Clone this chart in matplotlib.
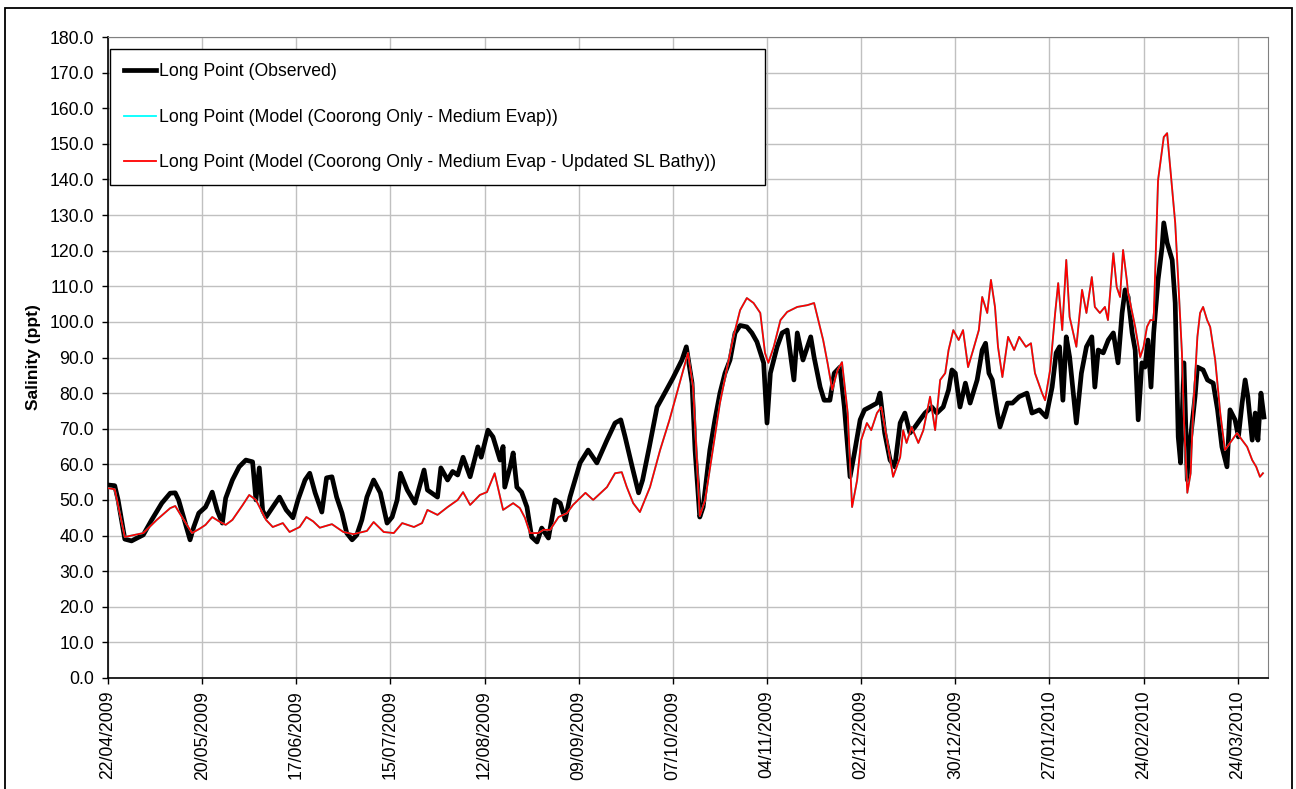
import numpy as np
import pandas as pd
import matplotlib
matplotlib.use('Agg')
import matplotlib.pyplot as plt
import matplotlib.dates as mdates
from matplotlib.patches import Rectangle
from matplotlib.ticker import FormatStrFormatter

plt.rcParams['font.family'] = ['Liberation Sans', 'DejaVu Sans']

# days after 22/04/2009 and salinity (ppt)
START = pd.Timestamp('2009-04-22')
END_DAY = 345

obs_day = [0, 2, 3, 5, 7, 10.5, 13, 16, 18.5, 20, 21, 24.4, 25.5, 27, 29, 30, 31, 32.5, 34, 35,
           37, 39, 41, 43, 44, 45, 46, 47, 49, 51, 53, 55, 56.5, 58.6, 60, 61.6, 63.6, 65, 66.6, 68,
           69.6, 71, 72.6, 74, 75.5, 77, 79, 81, 83, 84.5, 86, 87, 89, 91.3, 94, 95, 98, 99, 101, 102.5,
           104, 105.6, 107.7, 110, 111, 113, 114.5, 116.6, 117.5, 118, 119.6, 120.5, 121.6, 123, 124.6, 126, 127.6, 129, 131, 133,
           134.5, 136, 137.4, 140.4, 142.8, 145.4, 148.4, 150.8, 152.5, 153.8, 155.9, 157.8, 159, 161, 163.3, 165, 168, 170.7, 172, 173.7,
           174.6, 176, 177, 179, 180.5, 182, 183.5, 185, 186.5, 188, 190, 191.5, 193, 195, 196, 197, 199, 200.5, 202, 204,
           205, 206.7, 209, 210, 211.8, 213, 214.7, 216, 217.7, 219, 220.7, 222, 223.7, 225, 226.6, 228.7, 229.6, 231, 232.6, 234,
           235.6, 237, 238.5, 240, 241.5, 243, 245, 246.5, 248.4, 250, 251, 252, 253.4, 255, 256.4, 258.5, 260, 261, 262, 263,
           264.5, 265.3, 267.5, 269, 271, 273.3, 274.8, 277, 279, 280.8, 282, 283, 284, 285, 286, 288, 289.5, 291, 292.6, 293.5,
           294.5, 296, 297.5, 299, 300.4, 301.6, 302.5, 303.4, 304.6, 305.5, 306.4, 307.5, 308.4, 309.3, 310.2, 311, 312.3, 313.5, 314, 315,
           316.5, 317.4, 318.3, 319, 320, 321, 322, 323.3, 324, 325.7, 327, 328.7, 330, 331.3, 332.8, 333.7, 335.2, 336.2, 337.3, 338.2,
           339, 340.3, 341.2, 342, 342.9, 343.8]
obs_val = [54.2, 54.0, 50, 39.0, 38.5, 40.2, 44.4, 49.1, 51.9, 52, 50, 38.8, 42.4, 46.3, 48, 50, 52.2, 47, 43.5, 50.5,
           55.6, 59.3, 61.2, 60.7, 50, 59, 47, 45.2, 48, 50.8, 47.2, 45, 50, 55.6, 57.5, 52, 46.6, 56.2, 56.5, 50.8,
           46.3, 40.7, 38.8, 40.2, 44.4, 50.8, 55.6, 52, 43.5, 45.2, 50, 57.5, 52.8, 49.1, 58.4, 52.8, 50.8, 59, 55.6, 58,
           57, 62, 56.5, 64.9, 62, 69.6, 67.7, 61.2, 65, 53.6, 59.3, 63.2, 53.6, 52.2, 48, 39.6, 38.2, 42.1, 39.3, 50,
           49.1, 44.4, 50.8, 60.4, 64, 60.4, 66.8, 71.6, 72.5, 67.7, 59.3, 52, 55.6, 64.9, 76.1, 79, 84.2, 89.3, 93, 82.8,
           64, 45.2, 48, 64, 72.5, 80, 85.6, 89.3, 96.9, 99, 98.6, 96.9, 94.4, 88.5, 71.6, 85.6, 93, 96.9, 97.7, 83.7,
           96.9, 89.3, 95.8, 90.1, 81.7, 78, 78, 85.6, 87.3, 76.1, 56.5, 63.2, 72.5, 75.3, 76.1, 77.2, 80, 68.8, 61.2, 59.3,
           71.6, 74.4, 68.8, 70.5, 72.5, 74.4, 76.1, 74.4, 76.1, 80.9, 86.5, 85.6, 76.1, 82.8, 77.2, 83.7, 92.1, 94, 85.6, 83.7,
           74.4, 70.5, 77.2, 77.2, 79, 80, 74.4, 75.3, 73.3, 81.7, 91.3, 93, 78, 95.8, 90.1, 71.6, 85.6, 93, 95.8, 81.7,
           92.1, 91.3, 94.9, 96.9, 88.5, 102.5, 109, 107, 96.9, 92.1, 72.5, 88.5, 87.3, 94.9, 81.7, 96.9, 111.8, 121, 127.8, 122.2,
           117.4, 105.3, 67.7, 60.4, 88.5, 55.6, 67.7, 79, 87.3, 86.5, 83.7, 82.8, 75.3, 64.9, 59.3, 75.3, 72.5, 67.7, 77.2, 83.7,
           79, 66.8, 74.4, 66.8, 80, 73.3]

mod_day = [0, 2, 5, 10.5, 14.5, 18.5, 20, 22, 25, 27.4, 29, 31, 33, 35, 37, 40, 42, 44, 47, 49,
           52, 54, 57, 59, 61, 63, 66.6, 70, 73, 77, 79, 82, 85, 87.5, 91, 93.4, 95, 98, 101, 104,
           105.6, 107.7, 110.6, 112.7, 115, 117.5, 120.5, 122.5, 124, 125.5, 128, 129.5, 131.5, 134, 136.5, 138.3, 142, 144.3, 146, 148.4,
           150.8, 152.8, 154.3, 156.2, 158.2, 161.2, 164.2, 167, 170, 172.5, 174, 176, 177.6, 180, 182, 184, 186, 188, 190, 192,
           194, 195.4, 196.4, 198, 200, 202, 205, 208, 210, 211, 212.7, 214, 215.4, 217, 218.3, 220, 221.3, 222.8, 224, 225.7,
           227, 228.7, 230, 231.7, 233.5, 235.6, 236.5, 237.5, 239, 241, 242.5, 244.5, 246, 247.5, 249, 250, 251.4, 253, 254.3, 255.8,
           257.3, 259, 260, 261.5, 262.6, 263.8, 264.7, 266, 267.7, 269.5, 271, 273, 274.5, 275.7, 277.8, 278.7, 280.2, 281.7, 282.6, 283.8,
           285, 286, 288, 289.7, 291, 292.6, 293.5, 295, 296.5, 297.4, 299, 300, 301, 301.9, 303, 303.4, 305.5, 307, 308, 309,
           310, 311, 312.3, 313.5, 314, 315, 316, 317.4, 318.3, 319.4, 320, 321, 322, 322.7, 324, 324.8, 325.7, 326.9, 327.8, 329.3,
           330.8, 332.2, 333.7, 335.8, 337.3, 338.8, 340.3, 341.5, 342.6, 343.5]
mod_val = [53.3, 53, 39.6, 40.7, 44.4, 47.7, 48.3, 45.2, 40.7, 42, 43, 45.2, 44, 43, 44.4, 48.5, 51.4, 50, 44.4, 42.4,
           43.5, 41, 42.4, 45.2, 44, 42.2, 43.2, 41, 40.4, 41.3, 43.8, 41, 40.7, 43.5, 42.4, 43.5, 47.2, 45.8, 48, 50,
           52.2, 48.6, 51.4, 52.2, 57.5, 47.2, 49.1, 47.7, 45, 40.7, 40.7, 41.6, 41.6, 45.2, 46.3, 48.6, 52, 50, 51.5, 53.6,
           57.5, 57.8, 53.6, 49.1, 46.6, 53.6, 64, 72.5, 82.8, 91.3, 81.7, 45.5, 50, 64.9, 77.2, 86.5, 95.8, 103.3, 106.7, 105.3,
           102.5, 91.3, 88.5, 93, 100.5, 102.8, 104.2, 104.7, 105.3, 101.4, 94.9, 88.5, 80.9, 86.5, 88.7, 74.4, 48, 55.6, 66.8, 71.6,
           69.6, 74.4, 76.1, 66.8, 56.5, 62, 69.6, 66, 70.5, 66, 69.6, 79, 69.6, 83.7, 85.6, 92.1, 97.7, 94.9, 97.7, 87.3,
           92.1, 97.7, 107, 102.5, 111.8, 104.2, 93, 84.5, 95.8, 92.1, 95.8, 93, 94, 85.6, 80, 78, 86.5, 102.5, 110.9, 97.7,
           117.4, 101.4, 93, 109, 102.5, 112.6, 104.2, 102.5, 104.2, 100.5, 119.3, 109.8, 107, 120.2, 111.8, 108.1, 98.6, 90.1, 93, 98.6,
           100.5, 100.5, 139.8, 148.3, 151.9, 153, 142.6, 127.8, 111.8, 91.3, 72.5, 52, 57.5, 74.4, 95.8, 102.5, 104.2, 100.5, 98.6, 89.3,
           74.4, 64, 66, 68.8, 66.8, 64.9, 61.2, 59.3, 56.5, 57.5]

labels = ['Long Point (Observed)',
          'Long Point (Model (Coorong Only - Medium Evap))',
          'Long Point (Model (Coorong Only - Medium Evap - Updated SL Bathy))']


def to_dates(days):
    return START + pd.to_timedelta(np.array(days), unit='D')


def main():
    W, H = 1296, 789
    fig = plt.figure(figsize=(W / 100, H / 100), dpi=100)
    ax = fig.add_axes([108 / W, 1 - 678 / H, 1160 / W, 641 / H])

    # outer chart border
    fig.patches.append(Rectangle((5 / W, -0.02), 1287 / W, 1.02 - 8 / H,
                                 transform=fig.transFigure, fill=False,
                                 edgecolor='black', linewidth=1.3))

    ax.plot(to_dates(obs_day), obs_val, color='black', lw=3.4, label=labels[0], zorder=3)
    # the two model runs sit on top of each other
    ax.plot(to_dates(mod_day), mod_val, color='#00ffff', lw=1.3, label=labels[1], zorder=4)
    ax.plot(to_dates(mod_day), mod_val, color='#ff0000', lw=1.3, label=labels[2], zorder=5)

    ax.set_xlim(START, START + pd.Timedelta(days=END_DAY))
    ax.set_ylim(0, 180)
    ax.set_yticks(np.arange(0, 181, 10))
    ax.yaxis.set_major_formatter(FormatStrFormatter('%.1f'))
    ax.set_xticks(to_dates(np.arange(0, END_DAY, 28)))
    ax.xaxis.set_major_formatter(mdates.DateFormatter('%d/%m/%Y'))
    plt.setp(ax.get_xticklabels(), rotation=90, ha='center')

    ax.grid(True, color='#c0c0c0', lw=1.0)
    ax.set_axisbelow(True)
    ax.tick_params(axis='both', direction='out', length=4, width=1, labelsize=12.7)
    ax.tick_params(axis='y', pad=6)
    ax.tick_params(axis='x', pad=5)
    for s in ('top', 'right'):
        ax.spines[s].set_color('#808080')
    for s in ('left', 'bottom'):
        ax.spines[s].set_color('black')
        ax.spines[s].set_linewidth(1.2)

    ax.set_ylabel('Salinity (ppt)', fontsize=12.5, fontweight='bold')
    ax.yaxis.set_label_coords(-0.058, 0.5)

    top = (678 - 49) / 641
    leg = ax.legend(loc='upper left', bbox_to_anchor=(2 / 1160, top - 0.01, 655 / 1160, 0.01),
                    mode='expand', borderaxespad=0, fontsize=12.7, frameon=True, fancybox=False,
                    framealpha=1, edgecolor='black', handlelength=1.8, handletextpad=0.2,
                    labelspacing=1.62, borderpad=0.8)
    leg.get_frame().set_linewidth(1.0)
    leg.set_zorder(10)

    fig.savefig('out.png', dpi=100)


if __name__ == '__main__':
    main()
